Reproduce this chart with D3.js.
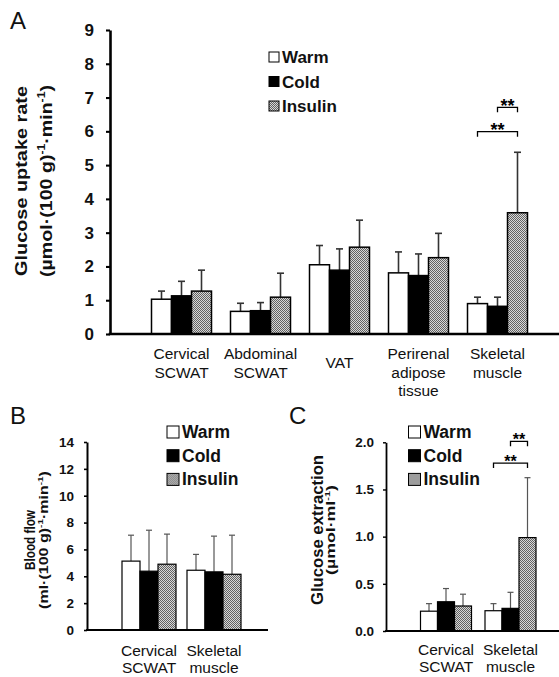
<!DOCTYPE html>
<html lang="en">
<head>
<meta charset="UTF-8">
<title>Glucose uptake, blood flow and glucose extraction</title>
<script src="https://d3js.org/d3.v7.min.js"></script>
<style>
  body { margin: 0; background: #fff; }
  svg { display: block; font-family: "Liberation Sans", Arial, sans-serif; }
</style>
</head>
<body>
<div id="chart"></div>
<script>
// legend / series
var series = ["Warm", "Cold", "Insulin"];

// A: glucose uptake rate
var tissuesA = ["Cervical SCWAT", "Abdominal SCWAT", "VAT", "Perirenal adipose tissue", "Skeletal muscle"];
var labelsA = [["Cervical", "SCWAT"], ["Abdominal", "SCWAT"], ["VAT"], ["Perirenal", "adipose", "tissue"], ["Skeletal", "muscle"]];
var uptakeWarm = [1.03, 0.67, 2.05, 1.81, 0.90];
var uptakeCold = [1.13, 0.69, 1.89, 1.73, 0.82];
var uptakeInsulin = [1.27, 1.09, 2.57, 2.26, 3.59];
var uptakeWarmSD = [0.24, 0.24, 0.57, 0.62, 0.19];
var uptakeColdSD = [0.43, 0.24, 0.63, 0.64, 0.27];
var uptakeInsulinSD = [0.62, 0.71, 0.80, 0.72, 1.79];
var ticksA = [0, 1, 2, 3, 4, 5, 6, 7, 8, 9];

// B and C share the tissues
var tissuesBC = ["Cervical SCWAT", "Skeletal muscle"];
var labelsBC = [["Cervical", "SCWAT"], ["Skeletal", "muscle"]];

// B: blood flow
var flowWarm = [5.13, 4.45];
var flowCold = [4.38, 4.33];
var flowInsulin = [4.90, 4.15];
var flowWarmSD = [1.93, 1.18];
var flowColdSD = [3.05, 2.66];
var flowInsulinSD = [2.24, 2.91];
var ticksB = [0, 2, 4, 6, 8, 10, 12, 14];

// C: glucose extraction
var extractionWarm = [0.21, 0.215];
var extractionCold = [0.31, 0.24];
var extractionInsulin = [0.265, 0.99];
var extractionWarmSD = [0.08, 0.075];
var extractionColdSD = [0.14, 0.17];
var extractionInsulinSD = [0.125, 0.635];
var ticksC = [0, 0.5, 1.0, 1.5, 2.0];

// significance brackets (level in axis units)
var sigA = [
    {tissue: "Skeletal muscle", from: "Cold", to: "Insulin", level: 6.71, label: "**"},
    {tissue: "Skeletal muscle", from: "Warm", to: "Insulin", level: 5.99, label: "**"}
];
var sigC = [
    {tissue: "Skeletal muscle", from: "Cold", to: "Insulin", level: 2.01, label: "**"},
    {tissue: "Skeletal muscle", from: "Warm", to: "Insulin", level: 1.78, label: "**"}
];

var width = 559, height = 677;

var svg = d3.select("#chart").append("svg")
    .attr("width", width)
    .attr("height", height);

// checkered fill for the insulin bars
var pat = svg.append("defs").append("pattern")
    .attr("id", "checker")
    .attr("patternUnits", "userSpaceOnUse")
    .attr("width", 2).attr("height", 2);
pat.append("rect").attr("width", 2).attr("height", 2).attr("fill", "#d8d8d8");
pat.append("rect").attr("width", 1).attr("height", 1).attr("fill", "#626262");
pat.append("rect").attr("x", 1).attr("y", 1).attr("width", 1).attr("height", 1).attr("fill", "#626262");

var fills = {"Warm": "#fff", "Cold": "#000", "Insulin": "url(#checker)"};

// rotated, multi-part title (parts: [text, superscript?]) squeezed to a given length
function rotTitle(g, parts, size, bx, cy, len) {
    var t = g.append("text")
        .attr("text-anchor", "middle")
        .attr("font-weight", "bold")
        .attr("font-size", size + "px")
        .attr("fill", "#111");
    var up = false;
    parts.forEach(function(p) {
        var s = t.append("tspan").text(p[0]);
        if (p[1] && !up) { s.attr("dy", -size * 0.4).attr("font-size", (size * 0.62) + "px"); up = true; }
        else if (p[1]) { s.attr("font-size", (size * 0.62) + "px"); }
        else if (up) { s.attr("dy", size * 0.4); up = false; }
    });
    var natural = t.node().getComputedTextLength();
    t.attr("transform", "translate(" + bx + "," + cy + ") rotate(-90) scale(" + (len / natural) + ",1)");
}

function drawPanel(cfg) {
    var g = svg.append("g");

    var y = d3.scaleLinear().domain([0, cfg.max]).range([cfg.bottom, cfg.top]);
    var x0 = d3.scaleBand().domain(cfg.tissues).range(cfg.groupRange);
    var bw = x0.bandwidth();
    var x1 = d3.scaleBand().domain(series)
        .range([(bw - cfg.groupWidth) / 2, (bw + cfg.groupWidth) / 2]);

    var rows = [];
    cfg.tissues.forEach(function(t, i) {
        series.forEach(function(s, j) {
            rows.push({tissue: t, series: s, mean: cfg.means[j][i], sd: cfg.sds[j][i]});
        });
    });

    // error bars (upper side only)
    var eb = g.selectAll(".err").data(rows).enter().append("g")
        .attr("stroke", cfg.errColor)
        .attr("stroke-width", cfg.errWidth);
    eb.append("line")
        .attr("x1", function(d) { return x0(d.tissue) + x1(d.series) + x1.bandwidth() / 2; })
        .attr("x2", function(d) { return x0(d.tissue) + x1(d.series) + x1.bandwidth() / 2; })
        .attr("y1", function(d) { return y(d.mean); })
        .attr("y2", function(d) { return y(d.mean + d.sd); });
    eb.append("line")
        .attr("x1", function(d) { return x0(d.tissue) + x1(d.series) + x1.bandwidth() / 2 - cfg.cap; })
        .attr("x2", function(d) { return x0(d.tissue) + x1(d.series) + x1.bandwidth() / 2 + cfg.cap; })
        .attr("y1", function(d) { return y(d.mean + d.sd); })
        .attr("y2", function(d) { return y(d.mean + d.sd); });

    // bars
    g.selectAll(".bar").data(rows).enter().append("rect")
        .attr("x", function(d) { return x0(d.tissue) + x1(d.series); })
        .attr("y", function(d) { return y(d.mean); })
        .attr("width", x1.bandwidth())
        .attr("height", function(d) { return cfg.bottom - y(d.mean); })
        .attr("fill", function(d) { return fills[d.series]; })
        .attr("stroke", "#000")
        .attr("stroke-width", cfg.barStroke);

    // y axis
    var yAxis = d3.axisLeft(y)
        .tickValues(cfg.ticks)
        .tickSize(cfg.tickLen)
        .tickSizeOuter(0)
        .tickPadding(cfg.tickPad)
        .tickFormat(cfg.format);
    var ya = g.append("g")
        .attr("transform", "translate(" + cfg.left + ",0)")
        .call(yAxis);
    ya.select(".domain").attr("stroke-width", cfg.axisWidth);
    ya.selectAll(".tick line").attr("stroke-width", cfg.axisWidth * 0.8);
    ya.selectAll("text")
        .attr("font-family", "Liberation Sans, Arial, sans-serif")
        .attr("font-size", cfg.tickFont + "px")
        .attr("font-weight", "bold")
        .attr("fill", "#111");

    // x axis: plain line running to the panel edge
    var xa = g.append("g")
        .attr("transform", "translate(0," + cfg.bottom + ")")
        .call(d3.axisBottom(x0).tickSize(0).tickFormat(""));
    xa.select(".domain")
        .attr("d", "M" + (cfg.left - cfg.axisWidth / 2) + ",0H" + cfg.right)
        .attr("stroke-width", cfg.axisWidth);

    // category labels
    cfg.labels.forEach(function(lines, i) {
        var cx = x0(cfg.tissues[i]) + bw / 2;
        var base = lines.length === 1 ? cfg.labelY + cfg.lineGap / 2 : cfg.labelY;
        var t = g.append("text")
            .attr("text-anchor", "middle")
            .attr("font-size", cfg.labelFont + "px")
            .attr("fill", "#111");
        lines.forEach(function(l, k) {
            t.append("tspan").attr("x", cx).attr("y", base + k * cfg.lineGap).text(l);
        });
    });

    // y titles
    rotTitle(g, cfg.title1, cfg.title1Size, cfg.title1X, cfg.titleY, cfg.title1Len);
    rotTitle(g, cfg.title2, cfg.title2Size, cfg.title2X, cfg.titleY, cfg.title2Len);

    // legend
    var lg = g.selectAll(".leg").data(series).enter().append("g")
        .attr("transform", function(d, i) { return "translate(" + cfg.legX + "," + (cfg.legY + i * cfg.legGap) + ")"; });
    lg.append("rect")
        .attr("x", 0).attr("y", -cfg.legBox / 2)
        .attr("width", cfg.legBox).attr("height", cfg.legBox)
        .attr("fill", function(d) { return fills[d]; })
        .attr("stroke", "#000").attr("stroke-width", 1);
    lg.append("text")
        .attr("x", cfg.legBox + 3)
        .attr("y", 6)
        .attr("font-size", cfg.legFont + "px")
        .attr("font-weight", "bold")
        .attr("fill", "#111")
        .text(function(d) { return d; });

    // significance brackets
    (cfg.sig || []).forEach(function(s) {
        var xa1 = x0(s.tissue) + x1(s.from) + x1.bandwidth() / 2;
        var xa2 = x0(s.tissue) + x1(s.to) + x1.bandwidth() / 2;
        var yy = y(s.level);
        g.append("path")
            .attr("d", "M" + xa1 + "," + (yy + 5) + "V" + yy + "H" + xa2 + "V" + (yy + 5))
            .attr("fill", "none")
            .attr("stroke", "#000")
            .attr("stroke-width", 1.3);
        g.append("text")
            .attr("x", (xa1 + xa2) / 2)
            .attr("y", yy + cfg.starFont * 0.24)
            .attr("text-anchor", "middle")
            .attr("font-size", cfg.starFont + "px")
            .attr("font-weight", "bold")
            .text(s.label);
    });

    // panel letter
    g.append("text")
        .attr("x", cfg.letterX).attr("y", cfg.letterY)
        .attr("font-size", cfg.letterFont + "px")
        .attr("fill", "#111")
        .text(cfg.letter);
}

var unitA = [["(\u00b5mol\u00b7(100 g)", false], ["-1", true], ["\u00b7min", false], ["-1", true], [")", false]];
var unitB = [["(ml\u00b7(100 g)", false], ["-1", true], ["\u00b7min", false], ["-1", true], [")", false]];
var unitC = [["(\u00b5mol\u00b7ml", false], ["-1", true], [")", false]];

drawPanel({
    letter: "A", letterX: 10, letterY: 29, letterFont: 24,
    tissues: tissuesA, labels: labelsA,
    means: [uptakeWarm, uptakeCold, uptakeInsulin],
    sds: [uptakeWarmSD, uptakeColdSD, uptakeInsulinSD],
    max: 9, ticks: ticksA, format: d3.format("d"),
    left: 110, right: 559, top: 30, bottom: 334,
    groupRange: [142, 537], groupWidth: 60,
    tickLen: 4, tickPad: 12, tickFont: 17, axisWidth: 2.6,
    barStroke: 1.5, errColor: "#333", errWidth: 1.6, cap: 3.5,
    labelY: 359, lineGap: 18.5, labelFont: 15.5,
    title1: [["Glucose uptake rate", false]], title1Size: 17, title1X: 27, title1Len: 190,
    title2: unitA, title2Size: 17, title2X: 52, title2Len: 192, titleY: 181,
    legX: 269, legY: 57, legGap: 24.5, legBox: 10, legFont: 17,
    sig: sigA, starFont: 18
});

drawPanel({
    letter: "B", letterX: 10, letterY: 424, letterFont: 24,
    tissues: tissuesBC, labels: labelsBC,
    means: [flowWarm, flowCold, flowInsulin],
    sds: [flowWarmSD, flowColdSD, flowInsulinSD],
    max: 14, ticks: ticksB, format: d3.format("d"),
    left: 87, right: 268, top: 442, bottom: 630,
    groupRange: [116.5, 246.5], groupWidth: 54,
    tickLen: 3, tickPad: 10, tickFont: 13.5, axisWidth: 2,
    barStroke: 1.2, errColor: "#555", errWidth: 1.2, cap: 3,
    labelY: 655.5, lineGap: 17.5, labelFont: 15.5,
    title1: [["Blood flow", false]], title1Size: 15, title1X: 35, title1Len: 60,
    title2: unitB, title2Size: 13, title2X: 48, title2Len: 138, titleY: 540,
    legX: 167, legY: 432, legGap: 23.7, legBox: 12, legFont: 17.5
});

drawPanel({
    letter: "C", letterX: 289, letterY: 424, letterFont: 24,
    tissues: tissuesBC, labels: labelsBC,
    means: [extractionWarm, extractionCold, extractionInsulin],
    sds: [extractionWarmSD, extractionColdSD, extractionInsulinSD],
    max: 2, ticks: ticksC, format: d3.format(".1f"),
    left: 386, right: 559, top: 442.3, bottom: 631,
    groupRange: [413.75, 542.75], groupWidth: 51,
    tickLen: 3, tickPad: 9, tickFont: 13.5, axisWidth: 1.8,
    barStroke: 1.2, errColor: "#555", errWidth: 1.2, cap: 3,
    labelY: 654.5, lineGap: 17.5, labelFont: 15.5,
    title1: [["Glucose extraction", false]], title1Size: 16, title1X: 322.5, title1Len: 150,
    title2: unitC, title2Size: 13, title2X: 335, title2Len: 90, titleY: 530,
    legX: 408.5, legY: 432, legGap: 23.7, legBox: 12, legFont: 17.5,
    sig: sigC, starFont: 16
});
</script>
</body>
</html>
